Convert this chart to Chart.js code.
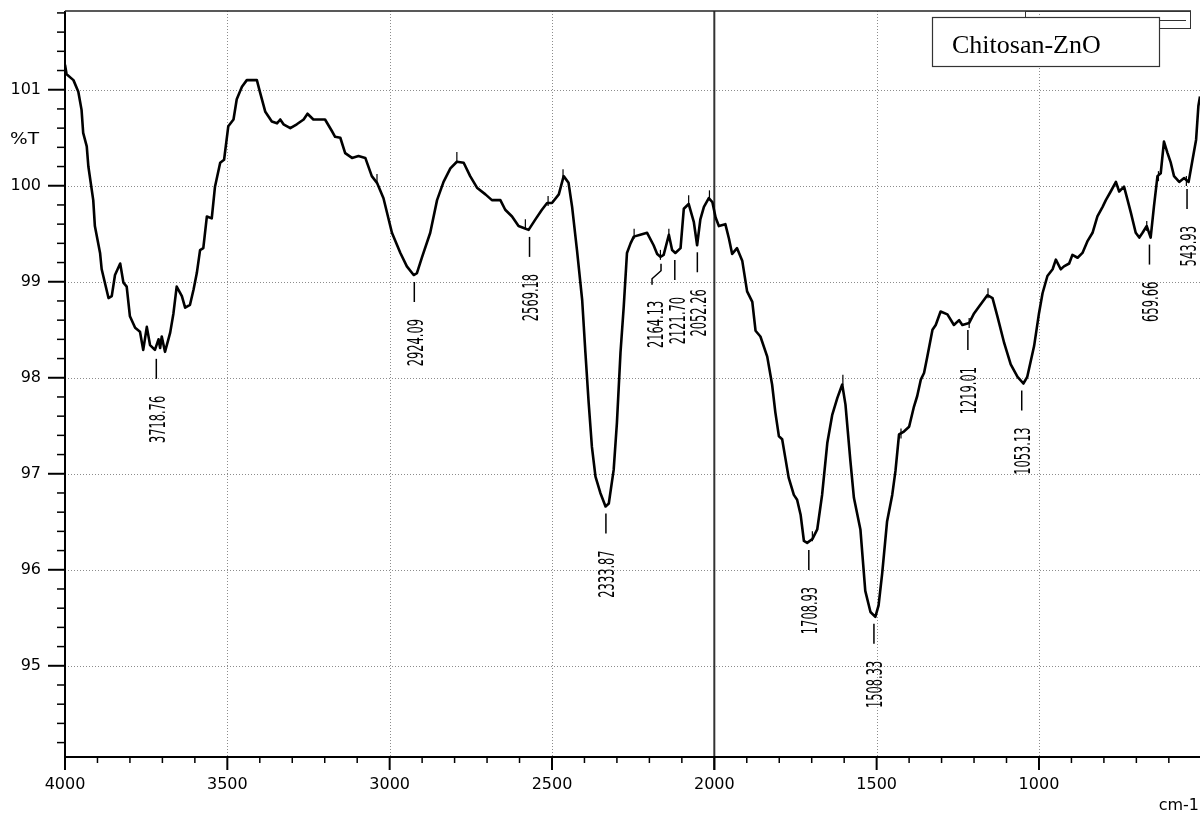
<!DOCTYPE html>
<html>
<head>
<meta charset="utf-8">
<title>Chitosan-ZnO FTIR</title>
<script src="https://cdn.jsdelivr.net/npm/chart.js@4.4.0/dist/chart.umd.min.js"></script>
<style>
  html, body { margin: 0; padding: 0; background: #fff; }
  canvas { display: block; }
</style>
</head>
<body>
<canvas id="ftir" width="1200" height="814"></canvas>
<script>
// Spectrum: wavenumber (cm-1) and transmittance (%T)
const wavenumbers = [
  4000, 3995, 3974, 3959, 3949, 3944, 3933, 3928, 3913, 3908, 3892, 3887, 3866, 3856, 3846, 3830,
  3820, 3810, 3800, 3784, 3769, 3759, 3748, 3738, 3723, 3712, 3707, 3702, 3692, 3676, 3666, 3656,
  3640, 3630, 3615, 3604, 3594, 3584, 3574, 3563, 3548, 3538, 3522, 3510, 3497, 3481, 3471, 3455,
  3440, 3425, 3409, 3399, 3383, 3363, 3347, 3337, 3327, 3306, 3286, 3265, 3253, 3235, 3199, 3178,
  3168, 3152, 3137, 3116, 3096, 3075, 3055, 3039, 3019, 2993, 2967, 2947, 2926, 2916, 2900, 2875,
  2854, 2834, 2813, 2793, 2772, 2752, 2731, 2705, 2685, 2659, 2644, 2623, 2603, 2587, 2572, 2551,
  2531, 2515, 2500, 2479, 2464, 2449, 2438, 2423, 2407, 2397, 2387, 2377, 2366, 2351, 2335, 2325,
  2310, 2300, 2289, 2279, 2269, 2258, 2248, 2228, 2207, 2187, 2176, 2166, 2156, 2140, 2130, 2120,
  2104, 2094, 2079, 2063, 2053, 2043, 2032, 2017, 2006, 1996, 1986, 1966, 1955, 1945, 1930, 1914,
  1899, 1883, 1873, 1858, 1837, 1822, 1812, 1801, 1791, 1781, 1771, 1755, 1745, 1734, 1724, 1714,
  1698, 1683, 1668, 1652, 1637, 1621, 1606, 1596, 1581, 1570, 1550, 1535, 1519, 1504, 1494, 1483,
  1468, 1452, 1442, 1431, 1416, 1400, 1385, 1375, 1364, 1354, 1344, 1328, 1318, 1303, 1282, 1262,
  1246, 1236, 1215, 1200, 1185, 1159, 1143, 1128, 1107, 1087, 1066, 1048, 1036, 1015, 1000, 989,
  974, 958, 948, 933, 923, 907, 897, 881, 866, 851, 835, 820, 804, 794, 779, 763,
  753, 738, 727, 717, 702, 691, 681, 668, 656, 646, 635, 625, 615, 604, 594, 584,
  568, 553, 539, 527, 516, 509, 504
];
const transmittance = [
  101.26, 101.16, 101.10, 100.98, 100.79, 100.55, 100.41, 100.20, 99.85, 99.58, 99.30, 99.13, 98.83, 98.85, 99.07, 99.19,
  98.99, 98.95, 98.64, 98.52, 98.48, 98.29, 98.53, 98.34, 98.29, 98.40, 98.31, 98.43, 98.27, 98.47, 98.67, 98.95,
  98.85, 98.73, 98.76, 98.92, 99.09, 99.33, 99.35, 99.68, 99.66, 99.99, 100.24, 100.27, 100.62, 100.69, 100.90, 101.03,
  101.10, 101.10, 101.10, 100.97, 100.77, 100.67, 100.65, 100.69, 100.64, 100.60, 100.64, 100.69, 100.75, 100.69, 100.69, 100.57,
  100.51, 100.50, 100.34, 100.29, 100.31, 100.29, 100.10, 100.03, 99.87, 99.51, 99.30, 99.16, 99.07, 99.09, 99.26, 99.51,
  99.85, 100.04, 100.18, 100.25, 100.24, 100.10, 99.98, 99.91, 99.85, 99.85, 99.75, 99.68, 99.58, 99.56, 99.54, 99.65,
  99.75, 99.82, 99.82, 99.91, 100.10, 100.03, 99.78, 99.33, 98.81, 98.26, 97.74, 97.28, 96.97, 96.80, 96.66, 96.69,
  97.04, 97.53, 98.26, 98.74, 99.30, 99.40, 99.47, 99.49, 99.51, 99.38, 99.29, 99.26, 99.28, 99.49, 99.33, 99.30,
  99.35, 99.76, 99.81, 99.62, 99.38, 99.65, 99.78, 99.87, 99.83, 99.67, 99.58, 99.60, 99.45, 99.29, 99.35, 99.22,
  98.90, 98.79, 98.49, 98.43, 98.22, 97.93, 97.64, 97.39, 97.36, 97.16, 96.96, 96.78, 96.73, 96.57, 96.30, 96.28,
  96.32, 96.42, 96.78, 97.32, 97.61, 97.79, 97.93, 97.72, 97.14, 96.75, 96.42, 95.78, 95.56, 95.51, 95.63, 95.96,
  96.50, 96.78, 97.03, 97.41, 97.44, 97.49, 97.70, 97.81, 97.98, 98.05, 98.22, 98.50, 98.55, 98.69, 98.66, 98.55,
  98.60, 98.55, 98.57, 98.67, 98.74, 98.86, 98.83, 98.64, 98.36, 98.14, 98.01, 97.94, 98.01, 98.33, 98.67, 98.88,
  99.06, 99.13, 99.23, 99.13, 99.16, 99.19, 99.28, 99.25, 99.30, 99.42, 99.51, 99.68, 99.78, 99.85, 99.94, 100.04,
  99.94, 99.99, 99.85, 99.72, 99.51, 99.46, 99.51, 99.58, 99.46, 99.78, 100.10, 100.13, 100.46, 100.34, 100.24, 100.10,
  100.04, 100.08, 100.04, 100.27, 100.48, 100.83, 100.93
];

// Small local-extremum marks the instrument software puts on the trace
const markWavenumbers = [3039, 2793, 2582, 2512, 2466, 2247, 2166, 2140, 2079, 2015, 1698, 1604, 1425, 1215, 1157, 668, 632, 546];
const markTransmittance = [100.07, 100.30, 99.60, 99.84, 100.12, 99.50, 99.28, 99.50, 99.85, 99.90, 96.35, 97.98, 97.42, 98.57, 98.88, 99.58, 100.10, 100.05];

// Annotated absorption bands
const peakWavenumbers = [3718.76, 2924.09, 2569.18, 2333.87, 2164.13, 2121.70, 2052.26, 1708.93, 1508.33, 1219.01, 1053.13, 659.66, 543.93];
const peakTransmittance = [98.27, 99.07, 99.54, 96.66, 99.26, 99.30, 99.38, 96.28, 95.51, 98.57, 97.94, 99.46, 100.04];
const peakLabels = peakWavenumbers.map(v => v.toFixed(2));

// Axis ticks
const xMajorTicks = [4000, 3500, 3000, 2500, 2000, 1500, 1000];
const xMinorTicks = [3900, 3800, 3700, 3600, 3400, 3300, 3200, 3100, 2900, 2800, 2700, 2600, 2400, 2300, 2200, 2100,
                     1900, 1800, 1700, 1600, 1400, 1300, 1200, 1100, 900, 800, 700, 600];
const yMajorTicks = [95, 96, 97, 98, 99, 100, 101];
const yMinorTicks = [94.2, 94.4, 94.6, 94.8, 95.2, 95.4, 95.6, 95.8, 96.2, 96.4, 96.6, 96.8, 97.2, 97.4, 97.6, 97.8,
                     98.2, 98.4, 98.6, 98.8, 99.2, 99.4, 99.6, 99.8, 100.2, 100.4, 100.6, 100.8, 101.2, 101.4, 101.6, 101.8];

const seriesName = 'Chitosan-ZnO';
const yUnit = '%T';
const xUnit = 'cm-1';

const AXIS_FONT = "'DejaVu Sans', 'Liberation Sans', sans-serif";
const PEAK_FONT = "'Liberation Sans Narrow', 'DejaVu Sans Condensed', 'Liberation Sans', sans-serif";

function seg(ctx, x1, y1, x2, y2) {
  ctx.beginPath(); ctx.moveTo(x1, y1); ctx.lineTo(x2, y2); ctx.stroke();
}

const spectrumDecor = {
  id: 'spectrumDecor',
  beforeDatasetsDraw(chart) {
    const { ctx, chartArea: a, scales: { x, y } } = chart;
    ctx.save();
    // dotted grid
    ctx.strokeStyle = '#8c8c8c';
    ctx.lineWidth = 1;
    ctx.setLineDash([1, 2]);
    xMajorTicks.forEach(v => {
      if (v === 4000 || v === 2000) return;
      const px = Math.round(x.getPixelForValue(v)) + 0.5;
      seg(ctx, px, a.top, px, a.bottom);
    });
    yMajorTicks.forEach(v => {
      const py = Math.round(y.getPixelForValue(v)) + 0.5;
      seg(ctx, a.left, py, a.right, py);
    });
    ctx.setLineDash([]);
    // solid divider at 2000 cm-1
    ctx.strokeStyle = '#333';
    ctx.lineWidth = 2;
    const p2000 = x.getPixelForValue(2000);
    seg(ctx, p2000, a.top, p2000, a.bottom + 13);
    ctx.restore();
  },
  afterDatasetsDraw(chart) {
    const { ctx, chartArea: a, scales: { x, y } } = chart;
    ctx.save();
    ctx.strokeStyle = '#000';
    ctx.lineCap = 'butt';

    // axis lines
    ctx.lineWidth = 2;
    seg(ctx, a.left, a.top, a.left, a.bottom + 1);
    seg(ctx, a.left - 1, a.bottom, a.right, a.bottom);
    // top frame line
    ctx.strokeStyle = '#222';
    ctx.lineWidth = 1.5;
    seg(ctx, a.left, a.top, 1191, a.top);

    // tick marks
    ctx.strokeStyle = '#000';
    ctx.lineWidth = 2;
    xMajorTicks.forEach(v => { const px = x.getPixelForValue(v); seg(ctx, px, a.bottom, px, a.bottom + 13); });
    yMajorTicks.forEach(v => { const py = y.getPixelForValue(v); seg(ctx, a.left - 17, py, a.left, py); });
    ctx.lineWidth = 1.5;
    xMinorTicks.forEach(v => { const px = x.getPixelForValue(v); seg(ctx, px, a.bottom, px, a.bottom + 6); });
    yMinorTicks.forEach(v => { const py = y.getPixelForValue(v); seg(ctx, a.left - 8, py, a.left, py); });

    // axis unit texts
    ctx.fillStyle = '#000';
    ctx.font = '16px ' + AXIS_FONT;
    ctx.textBaseline = 'middle';
    ctx.textAlign = 'left';
    ctx.save();
    const wT = ctx.measureText(yUnit).width;
    ctx.translate(10, y.getPixelForValue(100.5) + 2);
    ctx.scale(29 / wT, 1);
    ctx.fillText(yUnit, 0, 0);
    ctx.restore();
    ctx.textAlign = 'right';
    ctx.fillText(xUnit, 1199, 806);

    // peak annotations: leader line + rotated value
    ctx.lineWidth = 1.5;
    ctx.strokeStyle = '#000';
    peakWavenumbers.forEach((v, i) => {
      const px = x.getPixelForValue(v);
      const top = y.getPixelForValue(peakTransmittance[i]) + 7;
      let tx = px + 1;
      if (peakLabels[i] === '2164.13') {
        ctx.beginPath();
        ctx.moveTo(px, top); ctx.lineTo(px, top + 7);
        ctx.lineTo(px - 9, top + 15); ctx.lineTo(px - 9, top + 21);
        ctx.stroke();
        tx = px - 6;
      } else {
        seg(ctx, px, top, px, top + 20);
        if (peakLabels[i] === '2121.70') tx = px + 3;
      }
      const label = peakLabels[i];
      ctx.save();
      ctx.font = '21px ' + PEAK_FONT;
      ctx.textAlign = 'right';
      ctx.textBaseline = 'alphabetic';
      const w = ctx.measureText(label).width;
      ctx.translate(tx + 7.5, top + 37);
      ctx.rotate(-Math.PI / 2);
      ctx.scale((6.75 * label.length) / w, 1);
      ctx.fillText(label, 0, 0);
      ctx.restore();
    });

    // legend frame
    ctx.strokeStyle = '#333';
    ctx.lineWidth = 1;
    ctx.strokeRect(1025.5, 11.5, 165, 17);
    seg(ctx, 1160, 20.5, 1186, 20.5);
    ctx.fillStyle = '#fff';
    ctx.fillRect(932, 17, 228, 50);
    ctx.lineWidth = 1.2;
    ctx.strokeRect(932.5, 17.5, 227, 49);
    ctx.fillStyle = '#000';
    ctx.font = "26px 'Liberation Serif', 'Times New Roman', serif";
    ctx.textAlign = 'left';
    ctx.textBaseline = 'alphabetic';
    ctx.fillText(chart.data.datasets[0].label, 952, 53);
    ctx.restore();
  }
};

new Chart(document.getElementById('ftir'), {
  type: 'scatter',
  data: {
    datasets: [
      {
        label: seriesName,
        data: wavenumbers.map((w, i) => ({ x: w, y: transmittance[i] })),
        showLine: true,
        borderColor: '#000',
        borderWidth: 2.6,
        pointRadius: 0,
        tension: 0,
        borderJoinStyle: 'round'
      },
      {
        label: 'marks',
        data: markWavenumbers.map((w, i) => ({ x: w, y: markTransmittance[i] })),
        showLine: false,
        pointStyle: 'line',
        rotation: 90,
        pointRadius: 5,
        borderColor: '#000',
        borderWidth: 1.2
      }
    ]
  },
  options: {
    responsive: false,
    animation: false,
    devicePixelRatio: 1,
    layout: { autoPadding: false, padding: { top: 11, right: 0, bottom: 0, left: 0 } },
    plugins: { legend: { display: false }, tooltip: { enabled: false } },
    scales: {
      x: {
        type: 'linear',
        reverse: true,
        min: 504,
        max: 4000,
        afterBuildTicks: s => { s.ticks = xMajorTicks.map(v => ({ value: v })); },
        afterFit: s => { s.height = 57; s.paddingLeft = 0; s.paddingRight = 0; },
        grid: { display: false, drawTicks: false },
        border: { display: false },
        ticks: {
          autoSkip: false, maxRotation: 0, padding: 18, color: '#000',
          font: { family: AXIS_FONT, size: 16 },
          callback: v => String(v)
        }
      },
      y: {
        type: 'linear',
        min: 94.05,
        max: 101.82,
        afterBuildTicks: s => { s.ticks = yMajorTicks.map(v => ({ value: v })); },
        afterFit: s => { s.width = 65; s.paddingTop = 0; s.paddingBottom = 0; },
        grid: { display: false, drawTicks: false },
        border: { display: false },
        ticks: {
          autoSkip: false, padding: 24, color: '#000',
          font: { family: AXIS_FONT, size: 16 },
          callback: v => String(v)
        }
      }
    }
  },
  plugins: [spectrumDecor]
});
</script>
</body>
</html>
